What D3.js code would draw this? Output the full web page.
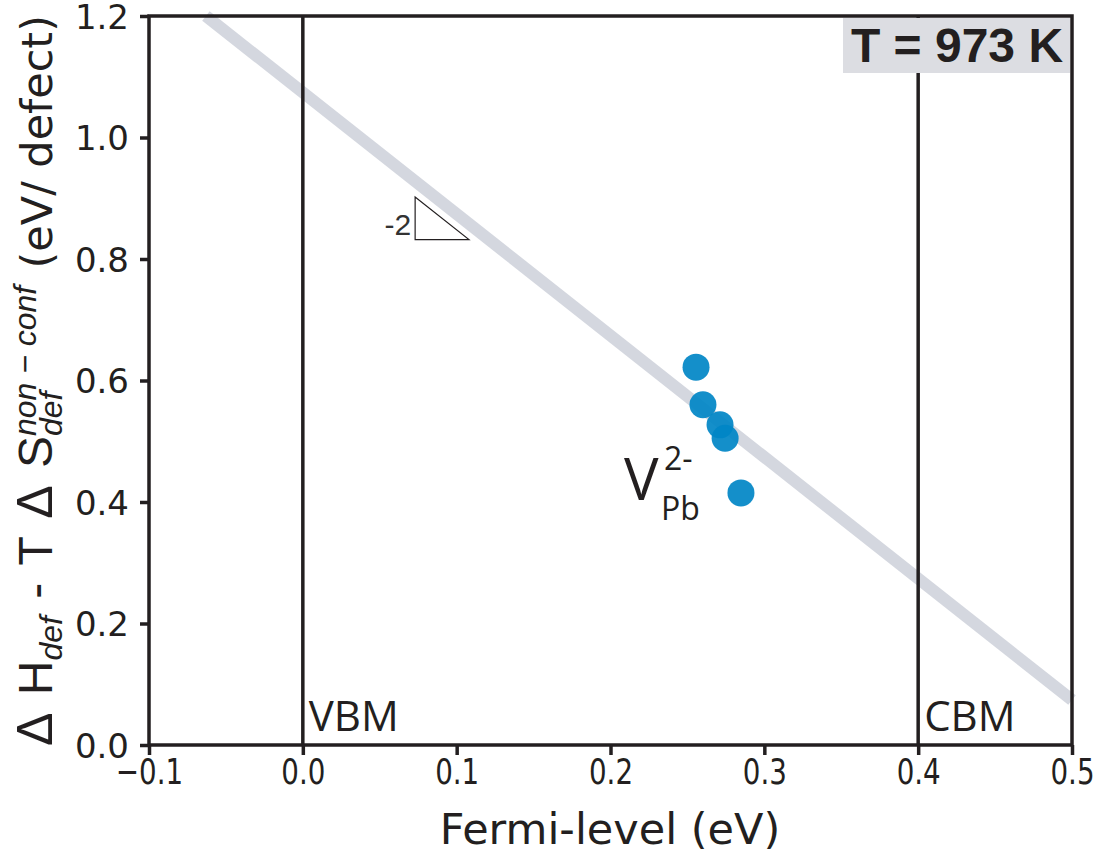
<!DOCTYPE html>
<html><head><meta charset="utf-8">
<script src="https://cdn.jsdelivr.net/npm/d3@7"></script>
<style>body{margin:0;background:#fff}</style>
</head><body><svg id="chart" width="1107" height="854"></svg>
<script>
// ---- data ----
const xTicks = [-0.1, 0.0, 0.1, 0.2, 0.3, 0.4, 0.5];
const yTicks = [0.0, 0.2, 0.4, 0.6, 0.8, 1.0, 1.2];
const defectX = [0.2556, 0.2601, 0.2712, 0.2745, 0.2848];
const defectY = [0.622, 0.560, 0.527, 0.505, 0.415];
const fitLineX = [-0.063, 0.5];
const fitLineY = [1.2, 0.074];
const bandEdges = [0.0, 0.4];
const bandLabels = ["VBM", "CBM"];
const slopeTriX = [0.073, 0.073, 0.108];
const slopeTriY = [0.902, 0.832, 0.832];
const slopeLabel = "-2";
const tempLabel = "T = 973 K";
const xTitle = "Fermi-level (eV)";

// ---- layout ----
const L = 149, R = 1072, T = 16, B = 745;
const svg = d3.select("#chart");
const x = d3.scaleLinear().domain([-0.1, 0.5]).range([L, R]);
const y = d3.scaleLinear().domain([0, 1.2]).range([B, T]);
const ink = "#231f20";

// fit line
svg.append("line")
  .attr("x1", x(fitLineX[0])).attr("y1", y(fitLineY[0]))
  .attr("x2", x(fitLineX[1])).attr("y2", y(fitLineY[1]))
  .attr("stroke", "#d4d7df").attr("stroke-width", 12);

// band edge lines
svg.selectAll(".band").data(bandEdges).enter().append("line")
  .attr("x1", d => x(d)).attr("x2", d => x(d))
  .attr("y1", y(0)).attr("y2", y(1.2))
  .attr("stroke", ink).attr("stroke-width", 3.5);
svg.selectAll(".bandlab").data(bandLabels).enter().append("text")
  .attr("x", (d, i) => x(bandEdges[i]) + 6).attr("y", 731)
  .attr("font-family", "Open Sans").attr("font-size", 42)
  .attr("fill", ink).text(d => d);

// frame
svg.append("rect").attr("x", L).attr("y", T).attr("width", R - L).attr("height", B - T)
  .attr("fill", "none").attr("stroke", ink).attr("stroke-width", 3.5);

// x axis
const xa = svg.append("g").attr("transform", `translate(0,${B})`)
  .call(d3.axisBottom(x).tickValues(xTicks).tickSize(10).tickSizeOuter(0).tickFormat(d3.format(".1f")));
xa.select(".domain").remove();
xa.selectAll(".tick line").attr("stroke", ink).attr("stroke-width", 3.5);
xa.selectAll(".tick text").attr("font-family", "DejaVu Sans").attr("font-size", 36)
  .attr("fill", ink).attr("y", 13).attr("dy", "0.71em")
  .attr("transform", "scale(0.77,1)");

// y axis
const ya = svg.append("g").attr("transform", `translate(${L},0)`)
  .call(d3.axisLeft(y).tickValues(yTicks).tickSize(9).tickSizeOuter(0).tickFormat(d3.format(".1f")));
ya.select(".domain").remove();
ya.selectAll(".tick line").attr("stroke", ink).attr("stroke-width", 3.5);
ya.selectAll(".tick text").attr("font-family", "DejaVu Sans").attr("font-size", 34)
  .attr("fill", ink).attr("x", -20).attr("dy", "0.36em");

// x title
svg.append("text").attr("x", 610).attr("y", 844)
  .attr("text-anchor", "middle").attr("font-family", "DejaVu Sans").attr("font-size", 43)
  .attr("fill", ink).text(xTitle);

// y title: flowed pieces with sub/superscripts, stretched to span the axis
const yl = svg.append("g").attr("transform", "rotate(-90)");
const base = 52;
const pieces = [
  {t: "Δ", size: 50},
  {gap: 1},
  {t: "H"},
  {t: "def", size: 32, italic: true, dv: 10},
  {gap: 1},
  {t: "-"},
  {gap: 1},
  {t: "T"},
  {gap: 1},
  {t: "Δ", size: 50},
  {gap: 1},
  {t: "S"},
  {t: "def", size: 32, italic: true, dv: 10, stack: true},
  {t: "non − conf", size: 32, italic: true, dv: -16},
  {gap: 1},
  {t: "(eV/ defect)", family: "DejaVu Sans", size: 43}
];
const nodes = [];
let nGaps = 0;
const baseGap = 12;
pieces.forEach(p => {
  if (p.gap) { nGaps++; nodes.push(null); return; }
  const n = yl.append("text").attr("y", base + (p.dv || 0))
    .attr("font-family", p.family || "Liberation Sans").attr("font-size", p.size || 48)
    .attr("font-style", p.italic ? "italic" : "normal").attr("fill", ink).text(p.t);
  p.w = n.node().getComputedTextLength();
  nodes.push(n);
});
let natural = 0;
pieces.forEach((p, i) => {
  if (p.gap) natural += baseGap;
  else if (p.stack) {}
  else {
    const prev = pieces[i - 1];
    if (prev && prev.stack) natural += Math.max(p.w, prev.w);
    else natural += p.w;
  }
});
const startY = 746, endY = 15;
const gapW = Math.max(6, baseGap + ((startY - endY) - natural) / nGaps);
let cur = startY;
pieces.forEach((p, i) => {
  if (p.gap) { cur -= gapW; return; }
  nodes[i].attr("x", -cur);
  if (p.stack) return;
  const prev = pieces[i - 1];
  if (prev && prev.stack) { nodes[i - 1].attr("x", -cur); cur -= Math.max(p.w, prev.w); }
  else cur -= p.w;
});

// temperature box
const tb = svg.append("g");
tb.append("rect").attr("x", 843).attr("y", 18).attr("width", 227).attr("height", 55).attr("fill", "#dcdde2");
tb.append("text").attr("x", 957).attr("y", 62).attr("text-anchor", "middle")
  .attr("font-family", "Liberation Sans").attr("font-weight", "bold").attr("font-size", 48)
  .attr("fill", ink).text(tempLabel);

// slope triangle
svg.append("path")
  .attr("d", d3.line().x(d => x(d[0])).y(d => y(d[1]))(slopeTriX.map((v, i) => [v, slopeTriY[i]])) + "Z")
  .attr("fill", "none").attr("stroke", ink).attr("stroke-width", 1.2);
svg.append("text").attr("x", x(slopeTriX[0]) - 4).attr("y", 235)
  .attr("text-anchor", "end").attr("font-family", "Liberation Sans").attr("font-size", 30)
  .attr("fill", "#333").text(slopeLabel);

// defect points
svg.selectAll(".pt").data(defectX).enter().append("circle")
  .attr("cx", d => x(d)).attr("cy", (d, i) => y(defectY[i])).attr("r", 13.5)
  .attr("fill", "#0085c6").attr("fill-opacity", 0.92);

// V_Pb^2- label
const vl = svg.append("text").attr("font-family", "Open Sans").attr("fill", ink);
vl.append("tspan").attr("x", 624).attr("y", 500).attr("font-size", 58).text("V");
vl.append("tspan").attr("x", 664).attr("y", 470).attr("font-size", 32).text("2-");
vl.append("tspan").attr("x", 661).attr("y", 520).attr("font-size", 32).text("Pb");
</script></body></html>
